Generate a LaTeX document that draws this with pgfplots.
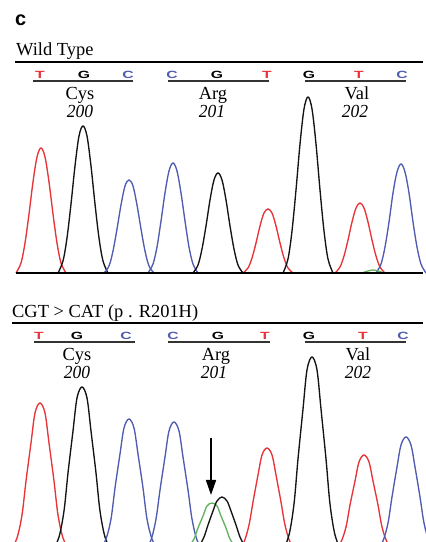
\documentclass[border=0pt]{standalone}
\usepackage{pgfplots}
\pgfplotsset{compat=1.18}
\usepackage{fontspec}
\setmainfont{Liberation Serif}
\newfontfamily\sansf{Liberation Sans}
\usetikzlibrary{arrows.meta}
\definecolor{tred}{RGB}{232,52,56}
\definecolor{tblue}{RGB}{80,92,176}
\definecolor{tgreen}{RGB}{100,178,96}
\definecolor{tblack}{RGB}{20,20,20}
\newcommand{\lab}{\fontsize{18.5}{20}\selectfont}
\newcommand{\numb}[1]{\scalebox{0.95}[1]{\fontsize{18.5}{20}\selectfont\itshape #1}}
\newcommand{\bse}[2]{\textcolor{#1}{\scalebox{1.5}[1]{\sansf\bfseries\fontsize{10.5}{11}\selectfont #2}}}
\begin{document}
\begin{tikzpicture}
\useasboundingbox (0,0) rectangle (426bp,542bp);
\begin{axis}[
  at={(0,0)}, anchor=south west,
  width=426bp, height=542bp, scale only axis,
  xmin=0, xmax=426, ymin=0, ymax=542,
  hide axis, clip=true,
  every axis plot/.append style={line width=1.35bp, smooth, tension=0.55, no markers},
]
% ---------- top panel (baseline y=269) ----------
\addplot[tred]   coordinates {(16,269)(21,279)(25,299)(29,328)(33,360)(37,385)(41,394)(45,385)(49,360)(53,328)(57,299)(61,279)(66,269)};
\addplot[tblack] coordinates {(58,269)(63,281)(67,304)(71,338)(75,376)(79,406)(83,416)(87,406)(91,376)(95,338)(99,304)(103,281)(108,269)};
\addplot[tblue]  coordinates {(104,269)(109,276)(113,291)(117,313)(121,337)(125,356)(129,362)(133,356)(137,337)(141,313)(145,291)(149,276)(154,269)};
\addplot[tblue]  coordinates {(148,269)(153,278)(157,295)(161,321)(165,349)(169,371)(173,379)(177,371)(181,349)(185,321)(189,295)(193,278)(198,269)};
\addplot[tblack] coordinates {(193,269)(198,277)(202,293)(206,316)(210,342)(214,362)(218,369)(222,362)(226,342)(230,316)(234,293)(238,277)(243,269)};
\addplot[tred]   coordinates {(243,269)(248,274)(252,284)(256,299)(260,316)(264,329)(268,333)(272,329)(276,316)(280,299)(284,284)(288,274)(293,269)};
\addplot[tblack] coordinates {(283,269)(288,283)(292,311)(296,352)(300,398)(304,433)(308,445)(312,433)(316,398)(320,352)(324,311)(328,283)(333,269)};
\addplot[tred]   coordinates {(335,269)(340,275)(344,286)(348,302)(352,320)(356,334)(360,339)(364,334)(368,320)(372,302)(376,286)(380,275)(385,269)};
\addplot[tblue]  coordinates {(376,269)(381,278)(385,295)(389,320)(393,349)(397,370)(401,378)(405,370)(409,349)(413,320)(417,295)(421,278)(426,269)};
\addplot[tgreen] coordinates {(362,269)(368,271)(373,272)(378,271)(384,269)};
% ---------- bottom panel (baseline y=-8) ----------
\addplot[tred]   coordinates {(11,-8)(17,4)(22,27)(26,61)(31,99)(35,129)(40,139)(45,129)(49,99)(54,61)(58,27)(63,4)(69,-8)};
\addplot[tblack] coordinates {(53,-8)(59,5)(64,31)(68,69)(73,111)(77,144)(82,155)(87,144)(91,111)(96,69)(100,31)(105,5)(111,-8)};
\addplot[tblue]  coordinates {(100,-8)(106,3)(111,23)(115,54)(120,88)(124,114)(129,123)(134,114)(138,88)(143,54)(147,23)(152,3)(158,-8)};
\addplot[tblue]  coordinates {(145,-8)(151,2)(156,23)(160,52)(165,85)(169,111)(174,120)(179,111)(183,85)(188,52)(192,23)(197,2)(203,-8)};
\addplot[tgreen] coordinates {(183,-8)(189,-4)(194,3)(198,14)(203,26)(207,36)(212,39)(217,36)(221,26)(226,14)(230,3)(235,-4)(241,-8)};
\addplot[tblack] coordinates {(193,-8)(199,-4)(204,5)(208,17)(213,31)(217,41)(222,45)(227,41)(231,31)(236,17)(240,5)(245,-4)(251,-8)};
\addplot[tred]   coordinates {(238,-8)(244,0)(249,17)(253,40)(258,67)(262,87)(267,94)(272,87)(276,67)(281,40)(285,17)(290,0)(296,-8)};
\addplot[tblack] coordinates {(283,-8)(289,7)(294,38)(298,83)(303,133)(307,172)(312,185)(317,172)(321,133)(326,83)(330,38)(335,7)(341,-8)};
\addplot[tred]   coordinates {(335,-8)(341,0)(346,15)(350,37)(355,61)(359,80)(364,87)(369,80)(373,61)(378,37)(382,15)(387,0)(393,-8)};
\addplot[tblue]  coordinates {(377,-8)(383,1)(388,19)(392,45)(397,75)(401,97)(406,105)(411,97)(415,75)(420,45)(424,19)(429,1)(435,-8)};
% baselines and header rules
\draw[black, line width=2.8bp] (axis cs:16,269) -- (axis cs:423,269);
\draw[black, line width=2bp] (axis cs:15,480) -- (axis cs:423,480);
\draw[black, line width=2bp] (axis cs:12,219) -- (axis cs:423,219);
% codon rules
\draw[black!80, line width=2.2bp] (axis cs:33,461) -- (axis cs:133,461);
\draw[black!80, line width=2.2bp] (axis cs:168,461) -- (axis cs:269,461);
\draw[black!80, line width=2.2bp] (axis cs:305,461) -- (axis cs:406,461);
\draw[black!80, line width=2.2bp] (axis cs:34,200) -- (axis cs:135,200);
\draw[black!80, line width=2.2bp] (axis cs:168,200) -- (axis cs:270,200);
\draw[black!80, line width=2.2bp] (axis cs:305,200) -- (axis cs:406,200);
% arrow
\draw[black, line width=1.6bp, -{Triangle[width=10bp,length=15bp]}] (axis cs:211,104) -- (axis cs:211,47);
\end{axis}
% ---------- text ----------
\begin{scope}[x=1bp,y=1bp]
\node[anchor=base west, inner sep=0] at (15,516) {\sansf\bfseries\fontsize{20}{22}\selectfont c};
\node[anchor=base west, inner sep=0] at (16,486) {\lab Wild Type};
\node[anchor=base west, inner sep=0] at (12,225) {\lab CGT > CAT (p . R201H)};
% base letters
\foreach \x/\cc/\l in {40/tred/T,84/black/G,128/tblue/C,172/tblue/C,217/black/G,267/tred/T,309/black/G,359/tred/T,402/tblue/C}
  \node[anchor=base, inner sep=0] at (\x,463) {\bse{\cc}{\l}};
\foreach \x/\cc/\l in {39/tred/T,77/black/G,126/tblue/C,173/tblue/C,218/black/G,265/tred/T,309/black/G,363/tred/T,403/tblue/C}
  \node[anchor=base, inner sep=0] at (\x,202.5) {\bse{\cc}{\l}};
% amino acids
\node[anchor=base, inner sep=0] at (80,442) {\lab Cys};
\node[anchor=base, inner sep=0] at (213,442) {\lab Arg};
\node[anchor=base, inner sep=0] at (357,442) {\lab Val};
\node[anchor=base, inner sep=0] at (80,424) {\numb{200}};
\node[anchor=base, inner sep=0] at (212,424) {\numb{201}};
\node[anchor=base, inner sep=0] at (355,424) {\numb{202}};
\node[anchor=base, inner sep=0] at (77,182) {\lab Cys};
\node[anchor=base, inner sep=0] at (216,182) {\lab Arg};
\node[anchor=base, inner sep=0] at (358,182) {\lab Val};
\node[anchor=base, inner sep=0] at (77,164) {\numb{200}};
\node[anchor=base, inner sep=0] at (214,164) {\numb{201}};
\node[anchor=base, inner sep=0] at (358,164) {\numb{202}};
\end{scope}
\end{tikzpicture}
\end{document}
